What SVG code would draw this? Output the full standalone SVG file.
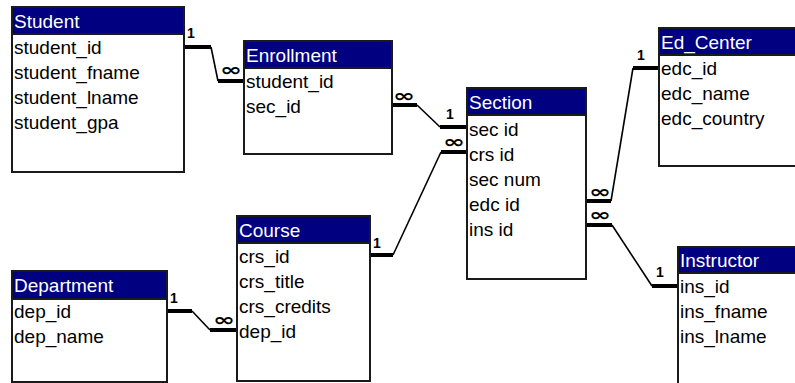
<svg xmlns="http://www.w3.org/2000/svg" width="795" height="383" viewBox="0 0 795 383">
<style>
.box{fill:#fff;stroke:#1a1a1a;stroke-width:2}
.hdr{fill:#000080;stroke:#1a1a1a;stroke-width:2}
.ht{font-family:"Liberation Sans",Arial,sans-serif;font-size:19px;fill:#fff}
.ft{font-family:"Liberation Sans",Arial,sans-serif;font-size:19px;fill:#000}
.thick{fill:none;stroke:#000;stroke-width:4}
.thin{fill:none;stroke:#000;stroke-width:1.6}
.one{font-family:"Liberation Sans",Arial,sans-serif;font-size:14px;font-weight:bold;fill:#000}
.inf{font-family:"DejaVu Sans",sans-serif;font-size:18px;font-weight:bold;fill:#000;text-anchor:middle}
</style>
<rect width="795" height="383" fill="#fff"/>
<g id="connectors">
  <g id="c-student-enrollment">
    <path class="thick" d="M184,47 H211"/><path class="thin" d="M211,47 L218,81"/><path class="thick" d="M218,81 H244"/>
    <text class="one" x="187" y="38">1</text>
    <text class="inf" x="231" y="76" textLength="22" lengthAdjust="spacingAndGlyphs">∞</text>
  </g>
  <g id="c-enrollment-section">
    <path class="thick" d="M392,105 H417"/><path class="thin" d="M417,105 L440,127"/><path class="thick" d="M440,127 H467"/>
    <text class="inf" x="404" y="102" textLength="22" lengthAdjust="spacingAndGlyphs">∞</text>
    <text class="one" x="446" y="119">1</text>
  </g>
  <g id="c-course-section">
    <path class="thick" d="M370,255 H393"/><path class="thin" d="M393,255 L441,152"/><path class="thick" d="M441,152 H467"/>
    <text class="one" x="373" y="248">1</text>
    <text class="inf" x="454" y="148" textLength="22" lengthAdjust="spacingAndGlyphs">∞</text>
  </g>
  <g id="c-section-edcenter">
    <path class="thick" d="M586,201 H611"/><path class="thin" d="M611,201 L633,68"/><path class="thick" d="M633,68 H659"/>
    <text class="inf" x="600" y="198" textLength="22" lengthAdjust="spacingAndGlyphs">∞</text>
    <text class="one" x="637" y="60">1</text>
  </g>
  <g id="c-section-instructor">
    <path class="thick" d="M586,225 H612"/><path class="thin" d="M612,225 L652,286"/><path class="thick" d="M652,286 H678"/>
    <text class="inf" x="600" y="221" textLength="22" lengthAdjust="spacingAndGlyphs">∞</text>
    <text class="one" x="656" y="277">1</text>
  </g>
  <g id="c-department-course">
    <path class="thick" d="M167,311 H192"/><path class="thin" d="M192,311 L210,330"/><path class="thick" d="M210,330 H237"/>
    <text class="one" x="170" y="303">1</text>
    <text class="inf" x="224" y="326" textLength="22" lengthAdjust="spacingAndGlyphs">∞</text>
  </g>
</g>
<g id="student">
  <rect class="box" x="12" y="7" width="172" height="165"/>
  <rect class="hdr" x="12" y="7" width="172" height="27"/>
  <text class="ht" x="14" y="28">Student</text>
  <text class="ft" x="14" y="54">student_id</text>
  <text class="ft" x="14" y="79">student_fname</text>
  <text class="ft" x="14" y="104">student_lname</text>
  <text class="ft" x="14" y="129">student_gpa</text>
</g>
<g id="enrollment">
  <rect class="box" x="244" y="41" width="148" height="113"/>
  <rect class="hdr" x="244" y="41" width="148" height="27"/>
  <text class="ht" x="246" y="62">Enrollment</text>
  <text class="ft" x="246" y="88">student_id</text>
  <text class="ft" x="246" y="113">sec_id</text>
</g>
<g id="section">
  <rect class="box" x="467" y="88" width="119" height="191"/>
  <rect class="hdr" x="467" y="88" width="119" height="27"/>
  <text class="ht" x="469" y="109">Section</text>
  <text class="ft" x="469" y="136">sec id</text>
  <text class="ft" x="469" y="161">crs id</text>
  <text class="ft" x="469" y="186">sec num</text>
  <text class="ft" x="469" y="211">edc id</text>
  <text class="ft" x="469" y="236">ins id</text>
</g>
<g id="ed_center">
  <rect class="box" x="659" y="28" width="150" height="138"/>
  <rect class="hdr" x="659" y="28" width="150" height="27"/>
  <text class="ht" x="661" y="49">Ed_Center</text>
  <text class="ft" x="661" y="75">edc_id</text>
  <text class="ft" x="661" y="100">edc_name</text>
  <text class="ft" x="661" y="125">edc_country</text>
</g>
<g id="instructor">
  <rect class="box" x="678" y="247" width="130" height="150"/>
  <rect class="hdr" x="678" y="247" width="130" height="26"/>
  <text class="ht" x="680" y="267">Instructor</text>
  <text class="ft" x="680" y="293">ins_id</text>
  <text class="ft" x="680" y="318">ins_fname</text>
  <text class="ft" x="680" y="343">ins_lname</text>
</g>
<g id="department">
  <rect class="box" x="12" y="271" width="155" height="111"/>
  <rect class="hdr" x="12" y="271" width="155" height="28"/>
  <text class="ht" x="14" y="292">Department</text>
  <text class="ft" x="14" y="318">dep_id</text>
  <text class="ft" x="14" y="343">dep_name</text>
</g>
<g id="course">
  <rect class="box" x="237" y="216" width="133" height="165"/>
  <rect class="hdr" x="237" y="216" width="133" height="27"/>
  <text class="ht" x="239" y="237">Course</text>
  <text class="ft" x="239" y="263">crs_id</text>
  <text class="ft" x="239" y="288">crs_title</text>
  <text class="ft" x="239" y="313">crs_credits</text>
  <text class="ft" x="239" y="338">dep_id</text>
</g>
</svg>
